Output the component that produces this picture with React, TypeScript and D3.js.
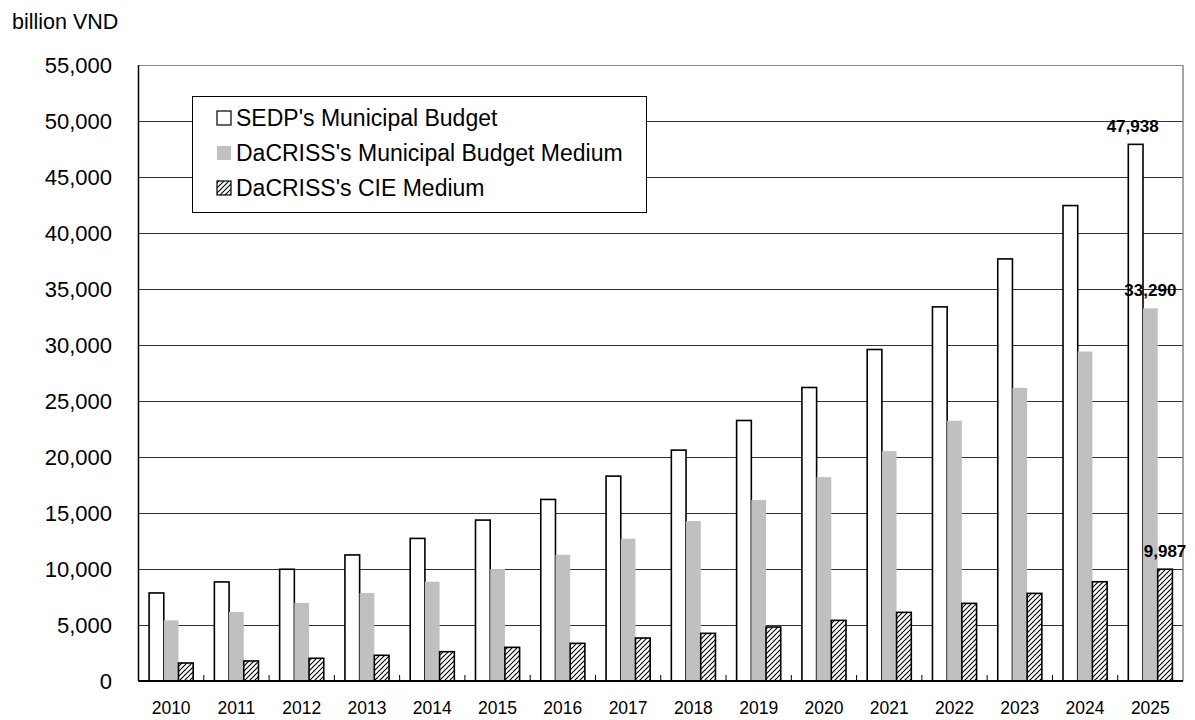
import React from "react";
import * as d3 from "d3";

const years = ["2010","2011","2012","2013","2014","2015","2016","2017","2018","2019","2020","2021","2022","2023","2024","2025"];
const sedpBudget = [7865, 8848, 9983, 11261, 12737, 14374, 16219, 18302, 20624, 23272, 26219, 29611, 33420, 37706, 42470, 47938];
const dacrissBudget = [5425, 6167, 6971, 7865, 8869, 10000, 11279, 12708, 14285, 16160, 18213, 20534, 23243, 26189, 29436, 33290];
const dacrissCIE = [1609, 1787, 2029, 2297, 2619, 3006, 3363, 3839, 4256, 4821, 5416, 6131, 6934, 7827, 8866, 9987];
const seriesNames = ["SEDP's Municipal Budget", "DaCRISS's Municipal Budget Medium", "DaCRISS's CIE Medium"];
const yTicks = [0, 5000, 10000, 15000, 20000, 25000, 30000, 35000, 40000, 45000, 50000, 55000];
const unitLabel = "billion VND";

const W = 1195, H = 720;
const L = 138.5, R = 1183, T = 65.3, B = 681;
const FONT = "'Liberation Sans', Arial, Helvetica, sans-serif";

const fills = ["#ffffff", "#c0c0c0", "url(#hatch)"];
const strokes = ["#000", "none", "#000"];

export default function App() {
  const x = d3.scaleBand<string>().domain(years).range([L, R]).padding(0);
  const x1 = d3.scaleBand<number>().domain([0, 1, 2]).range([0, x.bandwidth()]).paddingInner(0).paddingOuter(0.72);
  const y = d3.scaleLinear().domain([0, 55000]).range([B, T]);
  const fmt = d3.format(",");
  const data = [sedpBudget, dacrissBudget, dacrissCIE];
  const last = years.length - 1;

  return (
    <svg width={W} height={H} style={{ position: "absolute", left: 0, top: 0, background: "#fff" }} fontFamily={FONT}>
      <defs>
        <pattern id="hatch" patternUnits="userSpaceOnUse" width="5" height="5">
          <rect width="5" height="5" fill="#fff" />
          <path d="M-1,1 l2,-2 M0,5 l5,-5 M4,6 l2,-2" stroke="#000" strokeWidth="1.1" />
        </pattern>
      </defs>
      <rect x={0} y={0} width={W} height={H} fill="#fff" />
      <text x={12} y={29} fontSize={21.5} fill="#000">{unitLabel}</text>

      {/* gridlines */}
      {yTicks.map((t) => (
        <line key={t} x1={L} x2={R} y1={Math.round(y(t)) + 0.5} y2={Math.round(y(t)) + 0.5}
          stroke={t === 55000 ? "#888" : "#333"} strokeWidth={1} />
      ))}
      <line x1={R} x2={R} y1={T} y2={B} stroke="#888" strokeWidth={1.5} />

      {/* y labels */}
      {yTicks.map((t) => (
        <text key={"l" + t} x={112} y={y(t)} dy="0.36em" textAnchor="end" fontSize={22} fill="#000">{fmt(t)}</text>
      ))}

      {/* bars */}
      {years.map((yr, i) => (
        <g key={yr}>
          {data.map((s, k) => (
            <rect key={k}
              x={(x(yr) as number) + (x1(k) as number)}
              y={y(s[i])}
              width={x1.bandwidth()}
              height={B - y(s[i])}
              fill={fills[k]}
              stroke={strokes[k]}
              strokeWidth={1.6} />
          ))}
        </g>
      ))}

      {/* axes */}
      <line x1={L} x2={L} y1={T} y2={B} stroke="#000" strokeWidth={1.5} />
      <line x1={L} x2={R} y1={B} y2={B} stroke="#000" strokeWidth={2} />
      {years.map((yr, i) => i > 0 ? (
        <line key={"t" + yr} x1={x(yr) as number} x2={x(yr) as number} y1={B} y2={B - 6} stroke="#000" strokeWidth={1} />
      ) : null)}
      {years.map((yr) => (
        <text key={"x" + yr} x={(x(yr) as number) + x.bandwidth() / 2} y={714} textAnchor="middle" fontSize={17.5} fill="#000">{yr}</text>
      ))}

      {/* value labels on last year */}
      {data.map((s, k) => (
        <text key={"v" + k}
          x={(x(years[last]) as number) + (x1(k) as number) + x1.bandwidth() / 2 - (k === 0 ? 3 : 0)}
          y={y(s[last]) - 12.5}
          textAnchor="middle" fontSize={17} fontWeight="bold" fill="#000">{fmt(s[last])}</text>
      ))}

      {/* legend */}
      <rect x={192.5} y={96.5} width={454} height={116} fill="#fff" stroke="#000" strokeWidth={1} />
      {seriesNames.map((n, k) => {
        const cy = 118 + k * 35;
        return (
          <g key={n}>
            <rect x={217} y={cy - 7} width={14} height={14} fill={fills[k]} stroke={strokes[k] === "none" ? "none" : "#000"} strokeWidth={1.2} />
            <text x={236} y={cy} dy="0.36em" fontSize={23} fill="#000">{n}</text>
          </g>
        );
      })}
    </svg>
  );
}
